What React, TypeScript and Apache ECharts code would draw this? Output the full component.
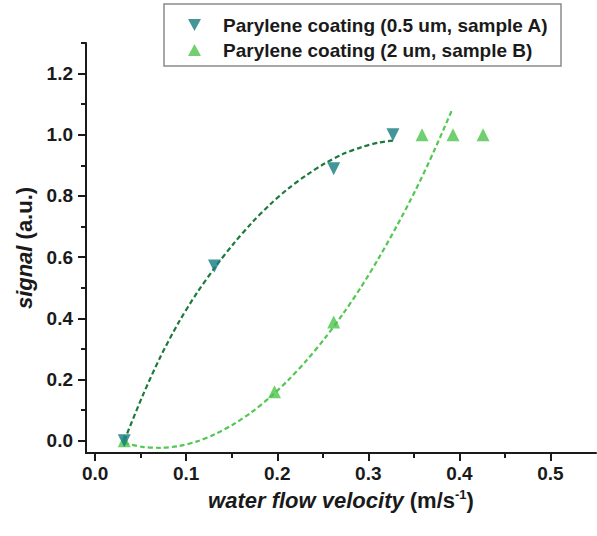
import React, { useEffect, useRef } from "react";
import * as echarts from "echarts";

// Measured points
const sampleAX = [0.032, 0.131, 0.262, 0.327];
const sampleAY = [0.0, 0.571, 0.889, 1.0];
const sampleBX = [0.032, 0.197, 0.262, 0.359, 0.393, 0.426];
const sampleBY = [0.0, 0.16, 0.388, 1.0, 1.0, 1.0];

// Fit curves
const fitAX = [0.032, 0.052, 0.072, 0.092, 0.112, 0.132, 0.152, 0.172, 0.192, 0.212, 0.232, 0.252, 0.272, 0.292, 0.312, 0.327];
const fitAY = [0.0, 0.146, 0.276, 0.388, 0.484, 0.568, 0.644, 0.712, 0.772, 0.824, 0.868, 0.906, 0.937, 0.959, 0.975, 0.981];
const fitBX = [0.032, 0.052, 0.072, 0.092, 0.112, 0.132, 0.152, 0.172, 0.192, 0.212, 0.232, 0.252, 0.272, 0.292, 0.312, 0.332, 0.352, 0.372, 0.392];
const fitBY = [-0.008, -0.02, -0.023, -0.017, -0.002, 0.022, 0.054, 0.094, 0.142, 0.198, 0.262, 0.334, 0.414, 0.502, 0.6, 0.706, 0.82, 0.946, 1.082];

// Ticks
const xTicks = [0, 0.1, 0.2, 0.3, 0.4, 0.5];
const xMinorTicks = [0.05, 0.15, 0.25, 0.35, 0.45];
const yTicks = [0, 0.2, 0.4, 0.6, 0.8, 1.0, 1.2];
const yMinorTicks = [0.1, 0.3, 0.5, 0.7, 0.9, 1.1, 1.3];

const nameA = "Parylene coating (0.5 um, sample A)";
const nameB = "Parylene coating (2 um, sample B)";

const FONT = "'Liberation Sans', Arial, sans-serif";
const INK = "#1a1a1a";

const zip = (xs: number[], ys: number[]) => xs.map((x, i) => [x, ys[i]]);

export default function App() {
  const ref = useRef<HTMLDivElement>(null);
  useEffect(() => {
    if (!ref.current) return;
    const chart = echarts.init(ref.current, undefined, { renderer: "svg" });
    const xMin = -0.01, xMax = 0.55, yMin = -0.04, yMax = 1.3;
    const baseX = {
      type: "value",
      min: xMin,
      max: xMax,
      position: "bottom",
      splitLine: { show: false },
    };
    const baseY = {
      type: "value",
      min: yMin,
      max: yMax,
      position: "left",
      splitLine: { show: false },
    };
    chart.setOption({
      animation: false,
      backgroundColor: "#ffffff",
      grid: {
        left: 86,
        right: 1,
        top: 43,
        bottom: 83,
        containLabel: false,
        outerBoundsMode: "none",
      },
      legend: {
        data: [
          { name: nameA, icon: "path://M0,0L12,0L6,11Z" },
          { name: nameB, icon: "path://M6,0L12,11L0,11Z" },
        ],
        orient: "vertical",
        left: 188,
        top: 15,
        padding: 0,
        itemGap: 5,
        itemWidth: 13,
        itemHeight: 12,
        textStyle: {
          fontFamily: FONT,
          fontWeight: "bold",
          fontSize: 19,
          color: INK,
          lineHeight: 20,
          padding: [0, 0, 0, 17],
        },
      },
      graphic: [
        {
          type: "rect",
          shape: { x: 164, y: 4, width: 397, height: 62 },
          style: { fill: "transparent", stroke: "#8a8a8a", lineWidth: 1.5 },
          silent: true,
        },
      ],
      xAxis: [
        {
          ...baseX,
          axisLine: { onZero: false, lineStyle: { color: INK, width: 2 } },
          axisTick: { customValues: xTicks, length: 8, lineStyle: { color: INK, width: 2 } },
          axisLabel: {
            customValues: xTicks,
            formatter: (v: number) => v.toFixed(1),
            fontFamily: FONT,
            fontWeight: "bold",
            fontSize: 19,
            color: INK,
            margin: 11,
          },
          name: "{i|water flow velocity} (m/s{s|-1})",
          nameLocation: "middle",
          nameGap: 32,
          nameTextStyle: {
            fontFamily: FONT,
            fontWeight: "bold",
            fontSize: 22,
            color: INK,
            lineHeight: 26,
            rich: {
              i: { fontStyle: "italic", fontWeight: "bold", fontSize: 22, fontFamily: FONT, color: INK, lineHeight: 26 },
              s: { fontSize: 13, fontWeight: "bold", fontFamily: FONT, color: INK, verticalAlign: "top", lineHeight: 26 },
            },
          },
        },
        {
          ...baseX,
          axisLine: { show: false, onZero: false },
          axisTick: { customValues: xMinorTicks, length: 5, lineStyle: { color: INK, width: 2 } },
          axisLabel: { show: false },
        },
      ],
      yAxis: [
        {
          ...baseY,
          axisLine: { onZero: false, lineStyle: { color: INK, width: 2 } },
          axisTick: { customValues: yTicks, length: 8, lineStyle: { color: INK, width: 2 } },
          axisLabel: {
            customValues: yTicks,
            formatter: (v: number) => v.toFixed(1),
            fontFamily: FONT,
            fontWeight: "bold",
            fontSize: 19,
            color: INK,
            margin: 13,
          },
          name: "{i|signal} (a.u.)",
          nameLocation: "middle",
          nameGap: 50,
          nameTextStyle: {
            fontFamily: FONT,
            fontWeight: "bold",
            fontSize: 22,
            color: INK,
            rich: {
              i: { fontStyle: "italic", fontWeight: "bold", fontSize: 22, fontFamily: FONT, color: INK },
            },
          },
        },
        {
          ...baseY,
          axisLine: { show: false, onZero: false },
          axisTick: { customValues: yMinorTicks, length: 5, lineStyle: { color: INK, width: 2 } },
          axisLabel: { show: false },
        },
      ],
      series: [
        {
          type: "line",
          name: "fitA",
          data: zip(fitAX, fitAY),
          smooth: 0.3,
          showSymbol: false,
          symbol: "none",
          lineStyle: { color: "#1c7a3c", width: 2.2, type: [5, 3] },
          z: 1,
        },
        {
          type: "line",
          name: "fitB",
          data: zip(fitBX, fitBY),
          smooth: 0.3,
          showSymbol: false,
          symbol: "none",
          lineStyle: { color: "#52c852", width: 2.2, type: [5, 3] },
          z: 1,
        },
        {
          type: "scatter",
          name: nameB,
          data: zip(sampleBX, sampleBY),
          symbol: "triangle",
          symbolSize: 13,
          itemStyle: { color: "#4cc44c" },
          z: 3,
        },
        {
          type: "scatter",
          name: nameA,
          data: zip(sampleAX, sampleAY),
          symbol: "triangle",
          symbolRotate: 180,
          symbolSize: 13,
          itemStyle: { color: "#157b80" },
          z: 4,
        },
      ],
    });
    return () => chart.dispose();
  }, []);
  return (
    <div
      ref={ref}
      style={{ position: "absolute", left: 0, top: 0, width: 597, height: 536, background: "#fff" }}
    />
  );
}
